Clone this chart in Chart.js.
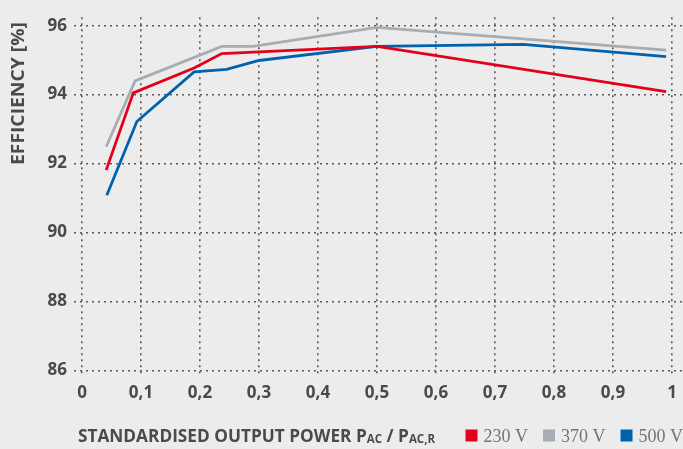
<!DOCTYPE html>
<html>
<head>
<meta charset="utf-8">
<script src="https://cdn.jsdelivr.net/npm/chart.js@4.4.1/dist/chart.umd.min.js"></script>
<style>
  html, body { margin: 0; padding: 0; background: #ececec; }
  #wrap { width: 683px; height: 449px; position: relative; }
</style>
</head>
<body>
<div id="wrap"><canvas id="effChart"></canvas></div>
<script>
// ===============================
// Data
// ===============================

const xTicks = [0, 0.1, 0.2, 0.3, 0.4, 0.5, 0.6, 0.7, 0.8, 0.9, 1];
const yTicks = [86, 88, 90, 92, 94, 96];

const seriesLabels = ["230 V", "370 V", "500 V"];
const seriesColors = ["#e3001b", "#a7adb2", "#0062ad"];

const power230 = [0.041, 0.087, 0.19, 0.237, 0.5, 0.99];
const eff230   = [91.81, 94.05, 94.77, 95.19, 95.40, 94.09];

const power370 = [0.041, 0.09, 0.237, 0.29, 0.5, 0.99];
const eff370   = [92.49, 94.40, 95.40, 95.40, 95.95, 95.29];

const power500 = [0.042, 0.093, 0.19, 0.245, 0.3, 0.5, 0.748, 0.99];
const eff500   = [91.08, 93.22, 94.66, 94.73, 94.99, 95.40, 95.46, 95.10];

const toPoints = (xs, ys) => xs.map((x, i) => ({ x: x, y: ys[i] }));

const textColor = "#4a4a4a";
const gridColor = "#5a5a5a";

// ===============================
// Axis titles + legend (drawn after chart)
// ===============================

const labelsPlugin = {
    id: "labelsPlugin",
    afterDraw(chart) {
        const ctx = chart.ctx;
        ctx.save();

        // ---------- y title ----------
        ctx.fillStyle = textColor;
        ctx.font = "bold 18px 'Open Sans'";
        ctx.textAlign = "center";
        ctx.textBaseline = "middle";
        const yTitle = "EFFICIENCY [%]";
        const yw = ctx.measureText(yTitle).width;
        ctx.translate(18.5, 93.5);
        ctx.rotate(-Math.PI / 2);
        ctx.scale(143 / yw, 1);
        ctx.fillText(yTitle, 0, 0);
        ctx.setTransform(1, 0, 0, 1, 0, 0);

        // ---------- x title with subscripts ----------
        const parts = [
            { t: "STANDARDISED OUTPUT POWER P", f: "bold 18px 'Open Sans'", dy: 0 },
            { t: "AC", f: "bold 12px 'Open Sans'", dy: 1 },
            { t: " / P", f: "bold 18px 'Open Sans'", dy: 0 },
            { t: "AC,R", f: "bold 12px 'Open Sans'", dy: 1 }
        ];
        let total = 0;
        parts.forEach(p => { ctx.font = p.f; p.w = ctx.measureText(p.t).width; total += p.w; });
        const sx = 357 / total;
        ctx.textAlign = "left";
        ctx.textBaseline = "alphabetic";
        ctx.translate(78, 442);
        ctx.scale(sx, 1);
        let cx = 0;
        parts.forEach(p => {
            ctx.font = p.f;
            ctx.fillText(p.t, cx, p.dy);
            cx += p.w;
        });
        ctx.setTransform(1, 0, 0, 1, 0, 0);

        // ---------- legend ----------
        ctx.font = "18px 'Liberation Serif'";
        const box = 12, gap = 6, spacing = 15;
        const items = chart.data.datasets.map(ds => ({
            label: ds.label,
            color: ds.borderColor,
            w: ctx.measureText(ds.label).width
        }));
        let right = 683;
        for (let i = items.length - 1; i >= 0; i--) {
            const it = items[i];
            const tx = right - it.w;
            ctx.fillStyle = "#737373";
            ctx.fillText(it.label, tx, 442);
            ctx.fillStyle = it.color;
            ctx.fillRect(tx - gap - box, 429.5, box, box);
            right = tx - gap - box - spacing;
        }

        ctx.restore();
    }
};

// ===============================
// Chart
// ===============================

const ctx = document.getElementById("effChart");

const chart = new Chart(ctx, {
    type: "line",
    data: {
        datasets: [
            { label: seriesLabels[0], data: toPoints(power230, eff230), borderColor: seriesColors[0] },
            { label: seriesLabels[1], data: toPoints(power370, eff370), borderColor: seriesColors[1] },
            { label: seriesLabels[2], data: toPoints(power500, eff500), borderColor: seriesColors[2] }
        ]
    },
    options: {
        responsive: true,
        maintainAspectRatio: false,
        animation: false,
        layout: { padding: { top: 7, right: 0, bottom: 0, left: 0 } },
        elements: {
            line: { borderWidth: 2.8, tension: 0, borderCapStyle: "butt", borderJoinStyle: "miter" },
            point: { radius: 0, hoverRadius: 0 }
        },
        plugins: {
            legend: { display: false },
            tooltip: { enabled: false }
        },
        scales: {
            x: {
                type: "linear",
                min: -8 / 590,
                max: 1 + 11 / 590,
                afterBuildTicks: s => { s.ticks = xTicks.map(v => ({ value: v })); },
                afterFit: s => { s.height = 72; },
                border: { display: false, dash: [2, 4] },
                grid: { color: gridColor, lineWidth: 1.6, drawTicks: false },
                ticks: {
                    color: textColor,
                    padding: 6,
                    maxRotation: 0,
                    autoSkip: false,
                    font: { family: "'Open Sans'", size: 17, weight: "bold" },
                    callback: v => String(Math.round(v * 10) / 10).replace(".", ",")
                }
            },
            y: {
                min: 86 - 6.7 / 35.46,
                max: 96 + 8.7 / 35.46,
                afterBuildTicks: s => { s.ticks = yTicks.map(v => ({ value: v })); },
                afterFit: s => { s.width = 74; },
                border: { display: false, dash: [2, 4] },
                grid: { color: gridColor, lineWidth: 1.6, drawTicks: false },
                ticks: {
                    color: textColor,
                    padding: 7,
                    autoSkip: false,
                    font: { family: "'Open Sans'", size: 17, weight: "bold" },
                    callback: v => String(v)
                }
            }
        }
    },
    plugins: [labelsPlugin]
});
</script>
</body>
</html>
